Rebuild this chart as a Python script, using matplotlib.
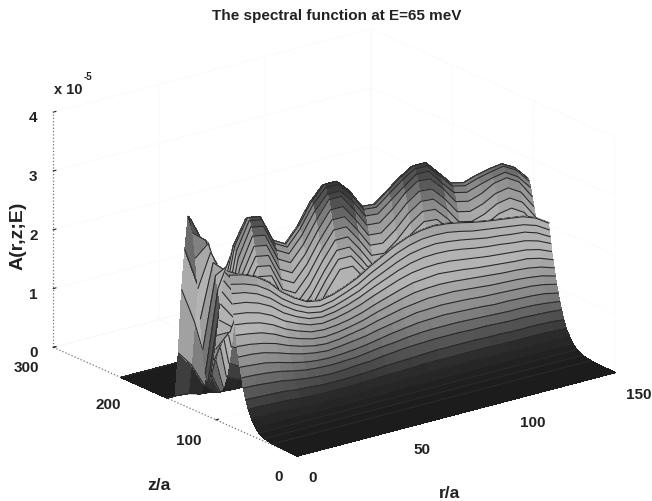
import matplotlib
matplotlib.use('Agg')
import matplotlib.pyplot as plt
import numpy as np
from matplotlib.colors import LinearSegmentedColormap

plt.rcParams['font.family'] = ['Liberation Sans', 'DejaVu Sans']
plt.rcParams['font.weight'] = 'bold'

r_vals = [0, 6, 12, 18, 24, 30, 36, 42, 48, 54, 60, 66, 72, 78, 84, 90, 96, 102, 108, 114, 120, 126, 132, 138, 144, 150]

# front slope, one line per z
z_front = [0, 30, 40, 47, 52, 56, 60, 63, 66, 68, 70, 72, 73.5, 75, 76.5, 78, 79, 80, 81, 82]
a_front = [
    [0] * 26,
    [.02] * 26,
    [.05] * 26,
    [.10] * 26,
    [.19, .18, .18, .18, .18, .17, .17, .17, .17, .17, .17, .18, .18, .18, .18, .18, .18, .18, .18, .18, .18, .18, .18, .18, .18, .17],
    [.29, .29, .29, .28, .27, .26, .26, .26, .26, .26, .27, .27, .28, .28, .29, .29, .29, .29, .29, .28, .28, .28, .28, .28, .28, .27],
    [.42, .42, .41, .40, .38, .37, .36, .36, .36, .37, .38, .39, .39, .40, .41, .41, .41, .41, .41, .41, .40, .40, .40, .40, .39, .38],
    [.57, .56, .55, .54, .51, .50, .48, .48, .48, .49, .50, .52, .53, .54, .55, .56, .56, .56, .56, .55, .55, .54, .54, .54, .53, .51],
    [.75, .74, .72, .70, .66, .63, .61, .60, .61, .63, .64, .67, .69, .71, .72, .73, .73, .73, .72, .72, .71, .70, .70, .69, .68, .66],
    [.91, .90, .88, .85, .80, .76, .74, .73, .74, .75, .78, .81, .83, .86, .88, .89, .89, .89, .88, .87, .86, .85, .85, .84, .82, .79],
    [1.08, 1.06, 1.04, .99, .93, .88, .85, .84, .85, .87, .90, .94, .98, 1.01, 1.04, 1.05, 1.06, 1.05, 1.04, 1.03, 1.01, 1.01, 1.00, .99, .97, .92],
    [1.24, 1.23, 1.20, 1.14, 1.07, 1.01, .97, .95, .97, 1.00, 1.03, 1.08, 1.12, 1.16, 1.20, 1.21, 1.22, 1.21, 1.20, 1.18, 1.17, 1.16, 1.15, 1.14, 1.11, 1.06],
    [1.41, 1.39, 1.35, 1.29, 1.20, 1.13, 1.08, 1.06, 1.08, 1.12, 1.16, 1.22, 1.27, 1.32, 1.35, 1.38, 1.38, 1.38, 1.36, 1.34, 1.32, 1.31, 1.30, 1.28, 1.25, 1.19],
    [1.59, 1.56, 1.52, 1.44, 1.33, 1.25, 1.19, 1.17, 1.19, 1.23, 1.28, 1.35, 1.41, 1.47, 1.52, 1.54, 1.55, 1.54, 1.52, 1.50, 1.48, 1.46, 1.45, 1.43, 1.39, 1.32],
    [1.76, 1.73, 1.68, 1.59, 1.46, 1.37, 1.30, 1.28, 1.30, 1.34, 1.40, 1.48, 1.55, 1.62, 1.68, 1.70, 1.72, 1.70, 1.68, 1.65, 1.63, 1.61, 1.59, 1.58, 1.53, 1.45],
    [1.93, 1.90, 1.84, 1.74, 1.59, 1.49, 1.41, 1.38, 1.41, 1.46, 1.53, 1.62, 1.70, 1.78, 1.84, 1.87, 1.88, 1.87, 1.84, 1.81, 1.78, 1.76, 1.74, 1.72, 1.67, 1.58],
    [2.10, 2.07, 2.00, 1.89, 1.72, 1.60, 1.51, 1.48, 1.51, 1.57, 1.65, 1.75, 1.84, 1.93, 2.00, 2.04, 2.05, 2.04, 2.01, 1.97, 1.94, 1.92, 1.89, 1.87, 1.81, 1.71],
    [2.27, 2.23, 2.15, 2.02, 1.84, 1.70, 1.60, 1.56, 1.60, 1.67, 1.75, 1.87, 1.97, 2.07, 2.15, 2.19, 2.21, 2.19, 2.16, 2.12, 2.08, 2.06, 2.03, 2.01, 1.94, 1.82],
    [2.42, 2.37, 2.29, 2.15, 1.95, 1.80, 1.69, 1.65, 1.69, 1.77, 1.86, 1.99, 2.10, 2.21, 2.29, 2.34, 2.35, 2.34, 2.30, 2.25, 2.22, 2.19, 2.16, 2.13, 2.06, 1.93],
    [2.57, 2.52, 2.43, 2.28, 2.06, 1.90, 1.78, 1.74, 1.78, 1.86, 1.96, 2.10, 2.22, 2.34, 2.43, 2.48, 2.50, 2.48, 2.44, 2.39, 2.35, 2.32, 2.29, 2.26, 2.18, 2.04],
]

# valley and rear ridge, one line per r
z_back = [84, 86, 88, 90, 92, 94, 96, 98, 100, 102, 104, 106, 108, 110, 113, 116, 119, 122, 125, 128, 131, 134, 138, 142, 146, 150, 160, 217]
a_back = [
    [2.62, 2.62, 2.57, 2.42, 2.22, 2.0, 1.72, 1.45, 1.2, 1.0, .82, .67, .58, .57, .7, 1.1, 1.6, 2.1, 2.6, 3.0, 3.22, 3.25, 2.65, 1.95, .85, .1, 0, 0],
    [2.5, 2.42, 2.3, 2.1, 1.9, 1.72, 1.55, 1.45, 1.42, 1.45, 1.52, 1.62, 1.72, 1.85, 2.1, 2.3, 2.5, 2.66, 2.79, 2.82, 2.75, 2.5, 2.0, 1.35, .6, .08, 0, 0],
    [2.33, 2.2, 2.05, 1.95, 1.9, 1.95, 2.05, 2.2, 2.32, 2.45, 2.6, 2.72, 2.8, 2.78, 2.6, 2.42, 2.3, 2.18, 2.05, 1.9, 1.72, 1.45, 1.0, .55, .2, .02, 0, 0],
    [2.18, 2.03, 1.98, 2.0, 2.14, 2.3, 2.46, 2.62, 2.78, 2.94, 3.08, 3.18, 3.22, 3.19, 3.0, 2.65, 2.2, 1.75, 1.3, .9, .6, .35, .15, .05, .01, 0, 0, 0],
    [1.96, 1.81, 1.76, 1.96, 2.10, 2.26, 2.42, 2.58, 2.74, 2.90, 3.04, 3.14, 3.18, 3.15, 2.96, 2.61, 2.16, 1.69, 1.21, .80, .48, .25, .10, .03, 0, 0, 0, 0],
    [1.80, 1.65, 1.60, 1.50, 1.64, 1.80, 1.96, 2.12, 2.28, 2.44, 2.58, 2.68, 2.72, 2.69, 2.53, 2.23, 1.85, 1.44, 1.03, .68, .41, .22, .08, .03, 0, 0, 0, 0],
    [1.68, 1.53, 1.48, 1.38, 1.52, 1.68, 1.84, 2.00, 2.16, 2.32, 2.46, 2.56, 2.60, 2.57, 2.42, 2.13, 1.77, 1.38, .99, .65, .39, .21, .08, .03, 0, 0, 0, 0],
    [1.64, 1.49, 1.47, 1.63, 1.77, 1.93, 2.09, 2.25, 2.41, 2.57, 2.71, 2.81, 2.85, 2.82, 2.65, 2.34, 1.94, 1.51, 1.08, .71, .43, .23, .09, .03, 0, 0, 0, 0],
    [1.68, 1.53, 1.82, 1.98, 2.12, 2.28, 2.44, 2.60, 2.76, 2.92, 3.06, 3.16, 3.20, 3.17, 2.98, 2.62, 2.18, 1.70, 1.22, .80, .48, .26, .10, .03, 0, 0, 0, 0],
    [1.76, 1.70, 2.12, 2.28, 2.42, 2.58, 2.74, 2.90, 3.06, 3.22, 3.30, 3.40, 3.44, 3.41, 3.20, 2.87, 2.38, 1.86, 1.33, .88, .53, .28, .11, .04, 0, 0, 0, 0],
    [1.86, 1.78, 2.12, 2.28, 2.42, 2.58, 2.74, 2.90, 3.06, 3.22, 3.30, 3.40, 3.44, 3.41, 3.20, 2.87, 2.38, 1.86, 1.33, .88, .53, .28, .11, .04, 0, 0, 0, 0],
    [2.00, 1.85, 1.84, 2.00, 2.14, 2.30, 2.46, 2.62, 2.78, 2.94, 3.08, 3.18, 3.22, 3.19, 2.99, 2.64, 2.19, 1.71, 1.22, .81, .48, .26, .10, .03, 0, 0, 0, 0],
    [2.12, 1.97, 1.92, 1.82, 1.82, 1.98, 2.14, 2.30, 2.46, 2.62, 2.76, 2.86, 2.90, 2.87, 2.70, 2.38, 1.97, 1.54, 1.10, .73, .44, .23, .09, .03, 0, 0, 0, 0],
    [2.24, 2.09, 2.04, 1.94, 1.94, 1.96, 2.12, 2.28, 2.44, 2.60, 2.74, 2.84, 2.88, 2.85, 2.68, 2.36, 1.96, 1.53, 1.09, .72, .43, .23, .09, .03, 0, 0, 0, 0],
    [2.33, 2.18, 2.13, 2.03, 2.03, 2.13, 2.29, 2.45, 2.61, 2.77, 2.91, 3.01, 3.05, 3.02, 2.84, 2.50, 2.07, 1.62, 1.16, .76, .46, .24, .09, .03, 0, 0, 0, 0],
    [2.38, 2.23, 2.18, 2.08, 2.19, 2.35, 2.51, 2.67, 2.83, 2.99, 3.08, 3.18, 3.22, 3.19, 3.00, 2.68, 2.22, 1.73, 1.24, .82, .49, .26, .10, .03, 0, 0, 0, 0],
    [2.40, 2.25, 2.20, 2.20, 2.34, 2.50, 2.66, 2.82, 2.98, 3.14, 3.24, 3.32, 3.36, 3.33, 3.13, 2.80, 2.33, 1.81, 1.30, .86, .51, .27, .10, .03, 0, 0, 0, 0],
    [2.38, 2.23, 2.18, 2.18, 2.32, 2.48, 2.64, 2.80, 2.96, 3.12, 3.24, 3.32, 3.36, 3.33, 3.13, 2.79, 2.31, 1.80, 1.29, .85, .51, .27, .10, .03, 0, 0, 0, 0],
    [2.34, 2.19, 2.14, 2.04, 2.10, 2.26, 2.42, 2.58, 2.74, 2.90, 2.99, 3.09, 3.13, 3.10, 2.92, 2.61, 2.16, 1.69, 1.21, .80, .48, .25, .10, .03, 0, 0, 0, 0],
    [2.29, 2.14, 2.09, 1.99, 1.99, 1.99, 2.14, 2.30, 2.46, 2.62, 2.76, 2.86, 2.90, 2.87, 2.70, 2.38, 1.97, 1.54, 1.10, .73, .44, .23, .09, .03, 0, 0, 0, 0],
    [2.25, 2.10, 2.05, 1.95, 1.95, 1.95, 2.09, 2.25, 2.41, 2.57, 2.71, 2.81, 2.85, 2.82, 2.65, 2.34, 1.94, 1.51, 1.08, .71, .43, .23, .09, .03, 0, 0, 0, 0],
    [2.22, 2.07, 2.02, 1.92, 1.92, 2.00, 2.16, 2.32, 2.48, 2.64, 2.78, 2.88, 2.92, 2.89, 2.72, 2.39, 1.99, 1.55, 1.11, .73, .44, .23, .09, .03, 0, 0, 0, 0],
    [2.19, 2.04, 1.99, 1.89, 1.96, 2.12, 2.28, 2.44, 2.60, 2.76, 2.84, 2.93, 2.97, 2.94, 2.77, 2.49, 2.07, 1.61, 1.16, .76, .46, .24, .09, .03, 0, 0, 0, 0],
    [2.16, 2.01, 1.96, 1.86, 2.00, 2.16, 2.32, 2.48, 2.64, 2.80, 2.88, 2.97, 3.00, 2.97, 2.80, 2.53, 2.09, 1.63, 1.17, .77, .46, .25, .09, .03, 0, 0, 0, 0],
    [2.08, 1.93, 1.88, 1.78, 1.87, 2.03, 2.19, 2.35, 2.51, 2.67, 2.75, 2.85, 2.88, 2.85, 2.68, 2.42, 2.01, 1.56, 1.12, .74, .44, .24, .09, .03, 0, 0, 0, 0],
    [1.94, 1.79, 1.74, 1.64, 1.64, 1.73, 1.89, 2.05, 2.21, 2.37, 2.51, 2.61, 2.65, 2.62, 2.46, 2.17, 1.80, 1.40, 1.01, .66, .40, .21, .08, .03, 0, 0, 0, 0],
]

r_ticks = [0, 50, 100, 150]
z_ticks = [0, 100, 200, 300]
a_ticks = [0, 1, 2, 3, 4]

z_vals = np.array(z_front + z_back, dtype=float)
r = np.array(r_vals, dtype=float)
A = np.vstack([np.array(a_front), np.array(a_back).T])
R, Z = np.meshgrid(r, z_vals)

cmap = LinearSegmentedColormap.from_list('scan', [
    (0.0, '#1c1c1c'), (0.08, '#2a2a2a'), (0.16, '#555555'), (0.27, '#8c8c8c'),
    (0.42, '#b4b4b4'), (0.56, '#b0b0b0'), (0.68, '#8f8f8f'), (0.76, '#5c5c5c'),
    (0.84, '#3a3a3a'), (1.0, '#303030')])

fig = plt.figure(figsize=(6.52, 5.01), dpi=100)
ax = fig.add_axes([0.0, -0.1, 1.0, 1.2], projection='3d', computed_zorder=False)
ax.set_proj_type('ortho')
ax.view_init(elev=20, azim=-127.5)
ax.set_box_aspect((1, 1, 0.625), zoom=1.0)
ax.set_xlim(0, 150, view_margin=0)
ax.set_ylim(0, 300, view_margin=0)
ax.set_zlim(0, 4, view_margin=0)

# paint strips from the far z side forward, each with its mesh line on top
for i in range(len(z_vals) - 2, -1, -1):
    k = (len(z_vals) - i) * 3
    col = cmap(A[i:i + 2].mean(axis=0) / 4.0)
    col = np.array([col, col])
    ax.plot_surface(R[i:i + 2], Z[i:i + 2], A[i:i + 2], facecolors=col, shade=False,
                    rstride=1, cstride=1, linewidth=0.3, antialiased=False, zorder=k)
    ax.plot(r, Z[i + 1], A[i + 1], color='#2a2a2a', lw=0.8, zorder=k + 1)
ax.plot(r, Z[0], A[0], color='#1c1c1c', lw=0.7, zorder=1000)
# the crest of the front slope reads as a heavier line
i_crest = len(z_front) - 1
ax.plot(r, Z[i_crest], A[i_crest], color='#1c1c1c', lw=1.5, zorder=(len(z_vals) - i_crest) * 3 + 2)

for axis in (ax.xaxis, ax.yaxis, ax.zaxis):
    axis.set_pane_color((1, 1, 1, 1))
    axis.pane.set_edgecolor('white')
    axis.line.set_color('#777777')
    axis.line.set_linestyle(':')
    axis.line.set_linewidth(0.9)
    axis._axinfo['grid'].update(color='#f0f0f0', linewidth=0.5, linestyle=':')
    axis._axinfo['tick'].update(inward_factor=0.0, outward_factor=0.1)

ax.set_xticks(r_ticks)
ax.set_yticks(z_ticks)
ax.set_zticks(a_ticks)
ax.tick_params(labelsize=11, pad=2, colors='#222222')
ax.tick_params(axis='z', pad=0)
plt.setp(ax.get_xticklabels(), ha='left')
plt.setp(ax.get_yticklabels(), ha='right')

fig.text(337 / 652, 1 - 16 / 501, 'The spectral function at E=65 meV', ha='center', va='center', fontsize=11, color='#222222')
fig.text(18 / 652, 1 - 236 / 501, 'A(r,z;E)', rotation=90, ha='center', va='center', fontsize=14, color='#222222')
fig.text(159 / 652, 1 - 486 / 501, 'z/a', ha='center', va='center', fontsize=12.5, color='#222222')
fig.text(450 / 652, 1 - 493 / 501, 'r/a', ha='center', va='center', fontsize=12.5, color='#222222')
fig.text(68 / 652, 1 - 90 / 501, 'x 10', ha='center', va='center', fontsize=10.5, color='#222222')
fig.text(88 / 652, 1 - 77 / 501, '-5', ha='center', va='center', fontsize=7, color='#222222')

fig.savefig('out.png', dpi=100)
